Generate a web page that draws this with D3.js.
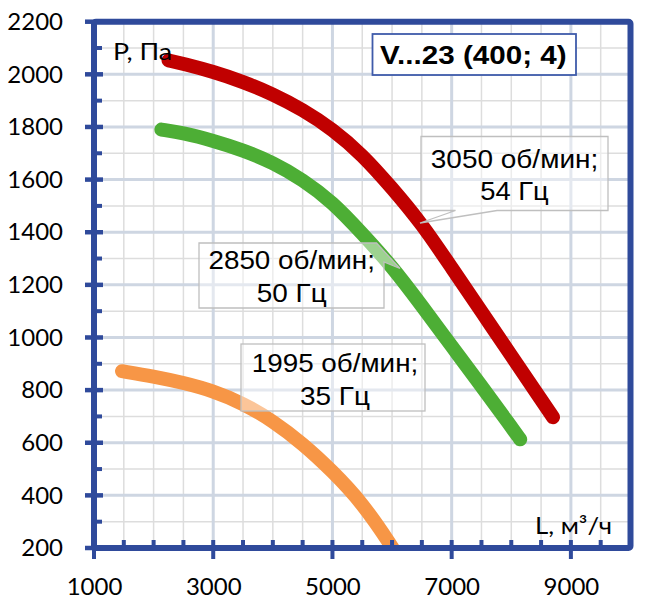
<!DOCTYPE html>
<html><head><meta charset="utf-8">
<script src="https://cdn.jsdelivr.net/npm/d3@7/dist/d3.min.js"></script>
<style>html,body{margin:0;padding:0;background:#fff}svg{display:block}</style>
</head><body>
<svg id="chart" width="669" height="599"></svg>
<script>
// Fan curves of V...23 (400; 4): airflow L (m³/h) vs pressure P (Pa)
const flow3050 = [2250, 2500, 3000, 3500, 4000, 4500, 5000, 5500, 6000, 6500, 7000, 7500, 8000, 8500, 8700];
const pressure3050 = [2053, 2040, 2010, 1972, 1925, 1866, 1792, 1695, 1568, 1432, 1265, 1098, 931, 764, 697];
const flow2850 = [2130, 2500, 3000, 3500, 4000, 4500, 5000, 5500, 6000, 6500, 7000, 7500, 8000, 8150];
const pressure2850 = [1790, 1777, 1748, 1712, 1665, 1600, 1515, 1395, 1270, 1120, 967, 815, 660, 613];
const flow1995 = [1470, 2000, 2500, 3000, 3500, 4000, 4500, 5000, 5500, 6000, 6100];
const pressure1995 = [872, 852, 828, 797, 750, 683, 597, 492, 372, 205, 165];

const xTickValues = [1000, 3000, 5000, 7000, 9000];
const yTickValues = [200, 400, 600, 800, 1000, 1200, 1400, 1600, 1800, 2000, 2200];
const seriesColors = ["#C00000", "#4DAE35", "#F79646"];
const speedLabels = [["3050 об/мин;", "54 Гц"], ["2850 об/мин;", "50 Гц"], ["1995 об/мин;", "35 Гц"]];
const chartTitle = "V...23 (400; 4)";
const yTitle = "P, Па";
const xTitle = "L, м³/ч";

const svg = d3.select("#chart");
const plotLeft = 94, plotRight = 630.5, plotTop = 21.7, plotBottom = 548;
const plotW = plotRight - plotLeft, plotH = plotBottom - plotTop;
const x = d3.scaleLinear().domain([1000, 10000]).range([plotLeft, plotRight]);
const y = d3.scaleLinear().domain([200, 2200]).range([plotBottom, plotTop]);
const frameColor = "#2F4A9B";
const xMinor = d3.range(1500, 10000, 500).filter(v => (v - 1000) % 2000 !== 0);
const yMinor = d3.range(300, 2200, 200);

svg.append("defs").append("clipPath").attr("id", "plotClip").append("rect")
  .attr("x", plotLeft).attr("y", plotTop).attr("width", plotW).attr("height", plotH);

// grid as single paths (one for minor rules, one for major rules)
function gridPath(xs, ys) {
  const p = d3.path();
  xs.forEach(v => { p.moveTo(x(v), plotTop); p.lineTo(x(v), plotBottom); });
  ys.forEach(v => { p.moveTo(plotLeft, y(v)); p.lineTo(plotRight, y(v)); });
  return p.toString();
}
svg.append("path").attr("d", gridPath(xMinor, yMinor))
  .style("fill", "none").style("stroke", "#DDDDDD").style("stroke-width", "1.5px");
svg.append("path").attr("d", gridPath(xTickValues, yTickValues))
  .style("fill", "none").style("stroke", "#CED6E2").style("stroke-width", "3px");

// fan curves
const series = [
  d3.zip(flow3050, pressure3050),
  d3.zip(flow2850, pressure2850),
  d3.zip(flow1995, pressure1995)
];
const curveLine = d3.line().x(d => x(d[0])).y(d => y(d[1])).curve(d3.curveBasis);
svg.append("g").attr("clip-path", "url(#plotClip)")
  .selectAll("path").data(series).join("path")
  .attr("d", curveLine).attr("fill", "none")
  .attr("stroke", (d, i) => seriesColors[i]).attr("stroke-width", 14)
  .attr("stroke-linecap", "round").attr("stroke-linejoin", "round");

// speed label boxes
const boxes = svg.append("g");
const boxFill = "rgba(255,255,255,0.45)", boxStroke = "#BFBFBF";
boxes.append("path")
  .attr("d", "M421,136.5 H608 V210.5 H497 L420,223 L455.5,210.5 H421 Z")
  .attr("fill", boxFill).attr("stroke", boxStroke).attr("stroke-width", 1.3);
boxes.append("path")
  .attr("d", "M199,243 H376.5 L400,268.5 L384,262 V308 H199 Z")
  .attr("fill", boxFill).attr("stroke", boxStroke).attr("stroke-width", 1.3);
boxes.append("rect").attr("x", 241).attr("y", 344).attr("width", 184).attr("height", 67)
  .attr("fill", boxFill).attr("stroke", boxStroke).attr("stroke-width", 1.3);

const labelPos = [
  {cx: 514.5, y1: 167.5, y2: 200, w1: 167.5, w2: 68.5},
  {cx: 291.7, y1: 268.5, y2: 301.5, w1: 166.5, w2: 70},
  {cx: 335, y1: 371.5, y2: 404.5, w1: 166.5, w2: 70}
];
speedLabels.forEach((lines, i) => {
  const p = labelPos[i];
  [[lines[0], p.y1, p.w1], [lines[1], p.y2, p.w2]].forEach(([t, yy, w]) => {
    boxes.append("text").attr("x", p.cx).attr("y", yy).attr("text-anchor", "middle")
      .attr("font-family", "'Liberation Sans', Arial, sans-serif").attr("font-size", 25)
      .attr("textLength", w).attr("lengthAdjust", "spacingAndGlyphs")
      .attr("fill", "#000").text(t);
  });
});

// title box
svg.append("rect").attr("x", 372.5).attr("y", 34).attr("width", 203.5).attr("height", 41)
  .attr("fill", "#fff").attr("stroke", "#3F5BAA").attr("stroke-width", 1.8);
svg.append("text").attr("x", 473.3).attr("y", 63.5).attr("text-anchor", "middle")
  .attr("font-family", "'Liberation Sans', Arial, sans-serif").attr("font-size", 25).attr("font-weight", "bold")
  .attr("textLength", 186.5).attr("lengthAdjust", "spacingAndGlyphs").text(chartTitle);

// frame
svg.append("rect").attr("x", plotLeft).attr("y", plotTop).attr("width", plotW).attr("height", plotH)
  .attr("fill", "none").attr("stroke", frameColor).attr("stroke-width", 6).attr("rx", 2);

// tick marks
function tickMarks(values, attrs, width) {
  const g = svg.append("g");
  values.forEach(v => {
    const a = attrs(v);
    g.append("line").attr("x1", a[0]).attr("y1", a[1]).attr("x2", a[2]).attr("y2", a[3])
      .attr("stroke", frameColor).attr("stroke-width", width);
  });
}
tickMarks(xMinor, v => [x(v), plotBottom, x(v), plotBottom - 8], 4);
tickMarks(xTickValues, v => [x(v), plotBottom + 11, x(v), plotBottom - 8], 4);
tickMarks(yMinor, v => [plotLeft, y(v), plotLeft + 8, y(v)], 4);
tickMarks(yTickValues, v => [plotLeft - 9, y(v), plotLeft + 9, y(v)], 4.5);

// axis labels
const tickFont = "Lato, 'Open Sans', sans-serif";
const yAxis = svg.append("g").attr("transform", `translate(${plotLeft},0)`)
  .call(d3.axisLeft(y).tickValues(yTickValues).tickFormat(d3.format("d")).tickSize(0).tickPadding(31));
const xAxis = svg.append("g").attr("transform", `translate(0,${plotBottom})`)
  .call(d3.axisBottom(x).tickValues(xTickValues).tickFormat(d3.format("d")).tickSize(0).tickPadding(30));
[yAxis, xAxis].forEach(a => {
  a.select(".domain").remove();
  a.selectAll("text").attr("font-family", tickFont).attr("font-size", 24).attr("fill", "#000");
});

// axis titles
svg.append("text").attr("x", 113).attr("y", 59.5)
  .attr("font-family", tickFont).attr("font-size", 24)
  .attr("textLength", 59).attr("lengthAdjust", "spacingAndGlyphs").text(yTitle);
svg.append("text").attr("x", 535).attr("y", 533.5)
  .attr("font-family", tickFont).attr("font-size", 24)
  .attr("textLength", 77).attr("lengthAdjust", "spacingAndGlyphs").text(xTitle);
</script>
</body></html>
